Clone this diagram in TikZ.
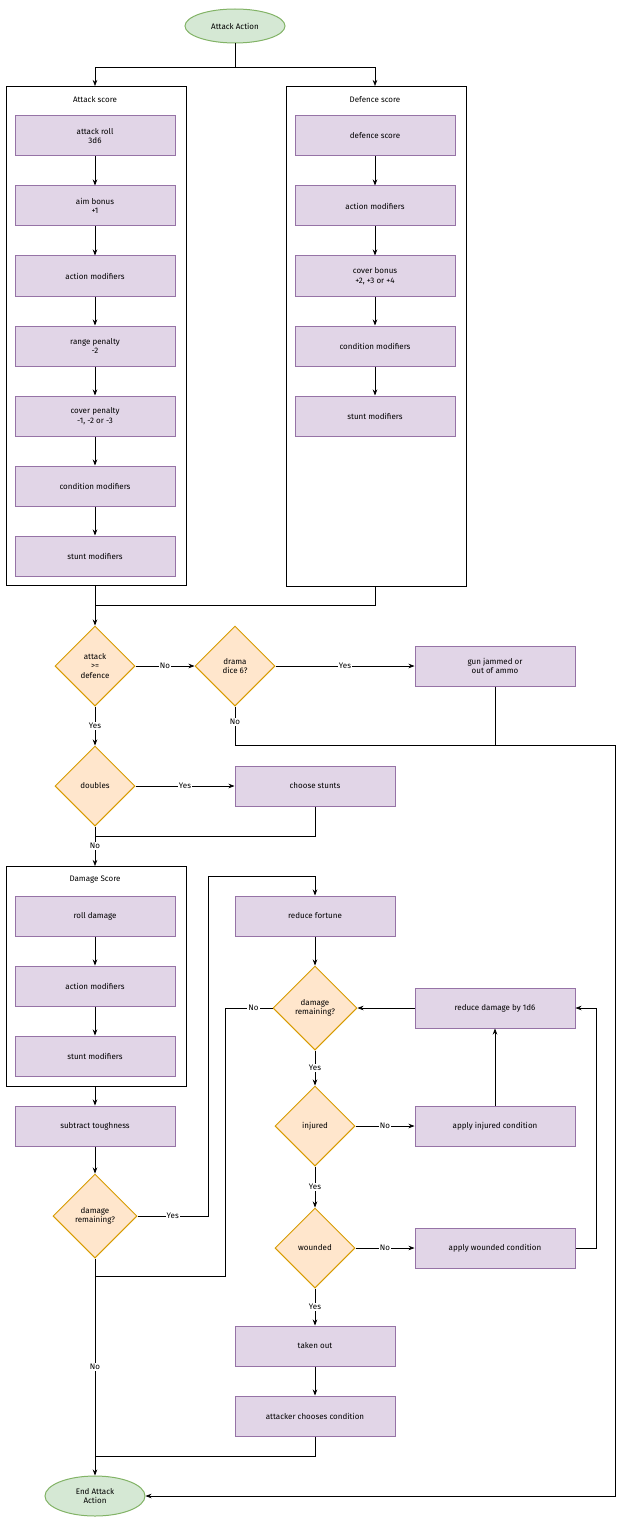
\documentclass[tikz,border=0pt]{standalone}
\usepackage{fontspec}
\setmainfont{Fira Sans}
\usetikzlibrary{shapes.geometric,arrows.meta}
\definecolor{pf}{HTML}{E1D5E7}\definecolor{ps}{HTML}{9673A6}
\definecolor{df}{HTML}{FFE6CC}\definecolor{ds}{HTML}{D79B00}
\definecolor{gf}{HTML}{D5E8D4}\definecolor{gs}{HTML}{82B366}
\begin{document}
\begin{tikzpicture}[x=1pt,y=-1pt,font=\fontsize{8}{9.5}\selectfont,
 box/.style={draw=ps,fill=pf,line width=1pt,minimum width=160pt,minimum height=40pt,align=center,inner sep=1pt},
 dia/.style={diamond,draw=ds,fill=df,line width=1pt,minimum width=#1,minimum height=#1,align=center,inner sep=0pt},
 dia/.default=80pt,
 term/.style={ellipse,draw=gs,fill=gf,line width=1pt,minimum width=100pt,minimum height=38pt,align=center,inner sep=0pt},
 cont/.style={draw,line width=0.6pt},
 arr/.style={-{Stealth[length=6pt]},line width=0.6pt},
 ln/.style={line width=0.6pt},
 lab/.style={fill=white,inner sep=1pt}]
\useasboundingbox (0,0) rectangle (629,1522);
\node[term,minimum height=34pt] (start) at (235,26) {Attack Action};
% containers
\draw[cont] (6,86) rectangle (186,585); \node (at) at (95,100) {Attack score};
\draw[cont] (286,86) rectangle (466,586); \node (dt) at (375,100) {Defence score};
\draw[cont] (6,866) rectangle (186,1086); \node (dmt) at (95,880) {Damage Score};
\coordinate (atop) at (95,86); \coordinate (dtop) at (375,86);
\coordinate (abot) at (95,585); \coordinate (dbot) at (375,586);
\coordinate (dmtop) at (95,866); \coordinate (dmbot) at (95,1086);
% attack column
\node[box] (a1) at (95,136) {attack roll\\3d6};
\node[box] (a2) at (95,206) {aim bonus\\+1};
\node[box] (a3) at (95,276) {action modifiers};
\node[box] (a4) at (95,346) {range penalty\\-2};
\node[box] (a5) at (95,416) {cover penalty\\-1, -2 or -3};
\node[box] (a6) at (95,486) {condition modifiers};
\node[box] (a7) at (95,556) {stunt modifiers};
\foreach \i/\j in {a1/a2,a2/a3,a3/a4,a4/a5,a5/a6,a6/a7} \draw[arr] (\i) -- (\j);
% defence column
\node[box] (d1) at (375,136) {defence score};
\node[box] (d2) at (375,206) {action modifiers};
\node[box] (d3) at (375,276) {cover bonus\\+2, +3 or +4};
\node[box] (d4) at (375,346) {condition modifiers};
\node[box] (d5) at (375,416) {stunt modifiers};
\foreach \i/\j in {d1/d2,d2/d3,d3/d4,d4/d5} \draw[arr] (\i) -- (\j);
\draw[ln] (start.south) -- (235,67) coordinate (split);
\draw[arr] (split) -| (atop);
\draw[arr] (split) -| (dtop);
% decisions
\node[dia] (q1) at (95,666) {attack\\>=\\defence};
\node[dia] (q2) at (235,666) {drama\\dice 6?};
\node[box] (gun) at (495,666) {gun jammed or\\out of ammo};
\draw[arr] (abot) -- (q1.north);
\draw[ln] (dbot) -- (375,605) -- (95,605);
\draw[arr] (q1) -- node[lab]{No} (q2);
\draw[arr] (q2) -- node[lab,pos=0.5]{Yes} (gun);
\node[dia] (q3) at (95,786) {doubles};
\node[box] (stunts) at (315,786) {choose stunts};
\draw[arr] (q1) -- node[lab]{Yes} (q3);
\draw[arr] (q3) -- node[lab]{Yes} (stunts);
\draw[arr] (q3) -- node[lab,pos=0.5]{No} (dmtop);
\draw[ln] (stunts.south) -- (315,836) -- (95,836);
% damage
\node[box] (m1) at (95,916) {roll damage};
\node[box] (m2) at (95,986) {action modifiers};
\node[box] (m3) at (95,1056) {stunt modifiers};
\draw[arr] (m1) -- (m2); \draw[arr] (m2) -- (m3);
\node[box] (tough) at (95,1126) {subtract toughness};
\draw[arr] (dmbot) -- (tough);
\node[dia=84pt] (q4) at (95,1216) {damage\\remaining?};
\draw[arr] (tough) -- (q4);
\node[term,minimum height=40pt] (end) at (95,1496) {End Attack\\Action};
\draw[arr] (q4) -- node[lab,pos=0.5]{No} (end);
% right side
\node[box] (fort) at (315,916) {reduce fortune};
\draw[arr] (q4.east) -- node[lab,pos=0.5]{Yes} (208,1216) -- (208,876) -| (fort.north);
\node[dia=84pt] (q5) at (315,1008) {damage\\remaining?};
\draw[arr] (fort) -- (q5);
\node[box] (red) at (495,1008) {reduce damage by 1d6};
\draw[arr] (red) -- (q5);
\draw[ln] (q5.west) -- node[lab,pos=0.4]{No} (225,1008) -- (225,1276) -- (95,1276);
\node[dia] (q6) at (315,1126) {injured};
\draw[arr] (q5) -- node[lab]{Yes} (q6);
\node[box] (inj) at (495,1126) {apply injured condition};
\draw[arr] (q6) -- node[lab]{No} (inj);
\draw[arr] (inj) -- (red);
\node[dia] (q7) at (315,1248) {wounded};
\draw[arr] (q6) -- node[lab]{Yes} (q7);
\node[box] (wnd) at (495,1248) {apply wounded condition};
\draw[arr] (q7) -- node[lab]{No} (wnd);
\draw[arr] (wnd.east) -- (596,1248) -- (596,1008) -- (red.east);
\node[box] (out) at (315,1346) {taken out};
\draw[arr] (q7) -- node[lab]{Yes} (out);
\node[box] (ch) at (315,1416) {attacker chooses condition};
\draw[arr] (out) -- (ch);
\draw[ln] (ch.south) -- (315,1456) -- (95,1456);
% drama no / gun
\draw[ln] (q2.south) -- node[lab,pos=0.4]{No} (235,745) -- (615,745);
\draw[ln] (gun.south) -- (495,745);
\draw[arr] (615,745) -- (615,1496) -- (end.east);
\end{tikzpicture}
\end{document}
